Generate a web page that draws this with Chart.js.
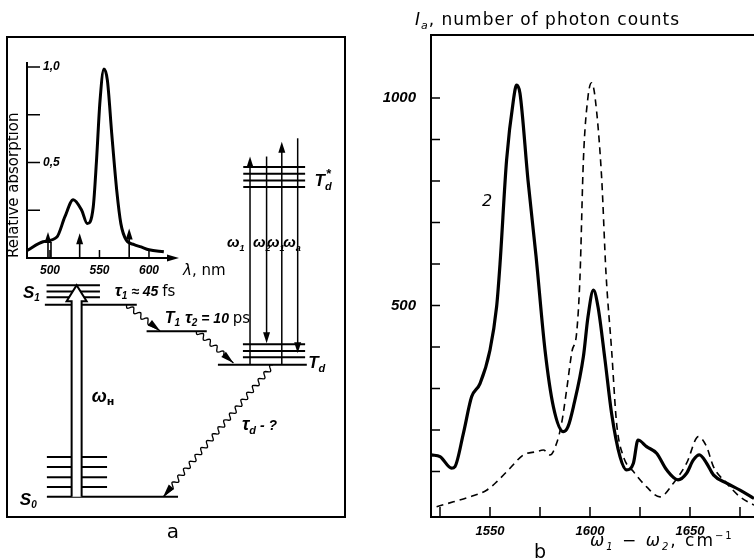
<!DOCTYPE html>
<html>
<head>
<meta charset="utf-8">
<title>Energy levels and resonance CARS spectra</title>
<script src="https://cdn.jsdelivr.net/npm/chart.js@4/dist/chart.umd.min.js"></script>
<style>
  html, body { margin: 0; padding: 0; background: #fff; overflow: hidden; }
  #page { position: relative; width: 754px; height: 560px; }
  #page canvas { position: absolute; }
</style>
</head>
<body>
<div id="page">
  <canvas id="diagram" width="360" height="560" style="left:0;top:0"></canvas>
  <canvas id="inset" width="240" height="250" style="left:0;top:40px"></canvas>
  <canvas id="spectrum" width="394" height="560" style="left:360px;top:0"></canvas>
</div>
<script>
// ---- panel a, inset: absorption spectrum ----
const absWavelength = [477, 493, 507, 515, 523.5, 532, 537.7, 543.7, 547, 550.5, 554.5, 558, 562.4, 567.5, 571.6, 577, 585, 592, 600, 615];
const absValue      = [0.04, 0.085, 0.11, 0.215, 0.305, 0.25, 0.18, 0.267, 0.51, 0.82, 0.99, 0.93, 0.65, 0.35, 0.18, 0.094, 0.07, 0.058, 0.043, 0.033];
const pumpWavelengths = [498, 530, 580];
const pumpHeights     = [0.136, 0.13, 0.155];

// ---- panel a: energy levels (arbitrary energy units, 0..100) ----
const s0Levels     = [4.2, 6.25, 8.3, 10.4, 12.5];
const s1Levels     = [44.2, 45.8, 47.0, 48.3];
const t1Level      = 38.7;
const tdLevels     = [31.7, 33.3, 34.6, 36.0];
const tdStarLevels = [68.75, 70.1, 71.5, 72.9];
const probeFrom    = [31.7, 75.1, 31.7, 78.9];
const probeTo      = [75.1, 36.2, 78.2, 34.1];
const probeNames   = [['ω', '1'], ['ω', '2'], ['ω', '1'], ['ω', 'a']];

// ---- panel b: CARS spectra ----
const curve2Wn = [1520.8, 1525, 1530.8, 1532.5, 1536.7, 1540.8, 1545, 1550, 1553.3, 1555, 1558.3, 1561.7, 1563.3, 1565, 1569, 1573, 1577.5, 1581.7, 1586.7, 1589, 1591.7, 1596.7, 1599, 1601.7, 1604, 1607.5, 1610.8, 1615, 1618.3, 1621.7, 1624, 1628.3, 1633.3, 1638.3, 1644, 1648.3, 1651.7, 1654.7, 1658.3, 1661.7, 1668.3, 1675, 1682];
const curve2Counts = [140, 136, 108, 112, 192, 280, 312, 393, 497, 600, 851, 995, 1031, 1011, 802, 620, 393, 256, 196, 208, 256, 377, 473, 537, 497, 369, 240, 136, 104, 120, 176, 160, 144, 104, 80, 96, 128, 140, 120, 92, 72, 55, 35];
const curve1Wn = [1523.3, 1531.7, 1540, 1548.3, 1553.3, 1560, 1566.7, 1573.3, 1576.7, 1580, 1583.3, 1585.8, 1588.3, 1591, 1593.3, 1595, 1596.7, 1599, 1600.8, 1602.5, 1605.8, 1608, 1610.8, 1613.3, 1616.7, 1621.7, 1628.3, 1635, 1641.7, 1648.3, 1654.2, 1658.3, 1661.7, 1668.3, 1675, 1682];
const curve1Counts = [15, 27, 39, 55, 75, 108, 140, 148, 152, 140, 168, 216, 296, 390, 433, 570, 851, 1003, 1037, 1003, 810, 578, 393, 216, 136, 100, 63, 39, 72, 120, 184, 160, 112, 72, 39, 19];
const curveLabel = { text: '2', wn: 1548.5, counts: 749 };

const it = s => `italic bold ${s}px 'Liberation Sans', sans-serif`;
const rg = s => `${s}px 'DejaVu Sans', sans-serif`;
const ri = s => `italic ${s}px 'DejaVu Sans', sans-serif`;

function line(ctx, x0, y0, x1, y1) {
  ctx.beginPath(); ctx.moveTo(x0, y0); ctx.lineTo(x1, y1); ctx.stroke();
}
function head(ctx, x, y, ang, len, half) {
  const c = Math.cos(ang), s = Math.sin(ang);
  ctx.beginPath();
  ctx.moveTo(x, y);
  ctx.lineTo(x - len * c + half * s, y - len * s - half * c);
  ctx.lineTo(x - len * c - half * s, y - len * s + half * c);
  ctx.closePath(); ctx.fill();
}
function wavy(ctx, x0, y0, x1, y1) {
  const dx = x1 - x0, dy = y1 - y0, len = Math.hypot(dx, dy);
  const ux = dx / len, uy = dy / len;
  ctx.beginPath(); ctx.moveTo(x0, y0);
  for (let s = 1; s <= len - 12; s++) {
    const o = 2.4 * Math.sin(s * 0.7);
    ctx.lineTo(x0 + ux * s - uy * o, y0 + uy * s + ux * o);
  }
  ctx.lineTo(x1, y1); ctx.stroke();
  head(ctx, x1, y1, Math.atan2(dy, dx), 13, 3.5);
}
// parts: [text, font, dy, dx]
function rich(ctx, x, y, parts, align) {
  let w = 0;
  parts.forEach(p => { ctx.font = p[1]; w += ctx.measureText(p[0]).width + (p[3] || 0); });
  let cx = align === 'center' ? x - w / 2 : x;
  ctx.textAlign = 'left'; ctx.textBaseline = 'alphabetic';
  parts.forEach(p => {
    ctx.font = p[1];
    cx += p[3] || 0;
    ctx.fillText(p[0], cx, y + (p[2] || 0));
    cx += ctx.measureText(p[0]).width;
  });
}
function ticksIn(ctx, scale, a, len, keep) {
  ctx.beginPath();
  scale.ticks.forEach(t => {
    if (!keep(t.value)) return;
    const p = scale.getPixelForValue(t.value);
    if (scale.isHorizontal()) { ctx.moveTo(p, a.bottom); ctx.lineTo(p, a.bottom - len); }
    else { ctx.moveTo(a.left, p); ctx.lineTo(a.left + len, p); }
  });
  ctx.stroke();
}

// ---------- panel a: level diagram ----------
const levelSegments = [
  ...s0Levels.map((e, i) => [e, 11.8, i ? 29.6 : 50.6]),
  ...s1Levels.map((e, i) => [e, i ? 11.7 : 11.2, i ? 27.5 : 38.4]),
  [t1Level, 41.3, 59.1],
  ...tdLevels.map((e, i) => [e, i ? 69.8 : 62.4, i ? 88.2 : 88.7]),
  ...tdStarLevels.map(e => [e, 69.9, 88.2])
];
const levelPoints = levelSegments.flatMap(([e, a, b]) => [{ x: a, y: e }, { x: b, y: e }, { x: NaN, y: NaN }]);

const pumpX = 20.6;
const probeX = [71.9, 76.8, 81.3, 86.0];
const relaxations = [[35.4, 44.2, 45.3, 38.8], [56.1, 38.75, 67.0, 32.1], [78.7, 31.7, 46.2, 4.2]];

const diagramPlugin = {
  id: 'diagramPlugin',
  afterDatasetsDraw(chart) {
    const { ctx, chartArea: a, scales: { x, y } } = chart;
    const px = v => x.getPixelForValue(v), py = v => y.getPixelForValue(v);
    ctx.save();
    ctx.strokeStyle = '#000'; ctx.fillStyle = '#000';
    ctx.lineWidth = 2;
    ctx.strokeRect(a.left, a.top, a.width, a.height);

    // hollow pump arrow
    const cx = px(pumpX), yb = py(s0Levels[0]), yt = py(s1Levels[s1Levels.length - 1]);
    ctx.beginPath();
    ctx.moveTo(cx - 5, yb); ctx.lineTo(cx - 5, yt + 16); ctx.lineTo(cx - 10, yt + 16);
    ctx.lineTo(cx, yt); ctx.lineTo(cx + 10, yt + 16); ctx.lineTo(cx + 5, yt + 16); ctx.lineTo(cx + 5, yb);
    ctx.fillStyle = '#fff'; ctx.fill();
    ctx.stroke();
    ctx.fillStyle = '#000';

    // probe / anti-Stokes transitions
    ctx.lineWidth = 1.5;
    probeX.forEach((xv, i) => {
      const xp = px(xv), y0 = py(probeFrom[i]), y1 = py(probeTo[i]);
      const up = y1 < y0;
      line(ctx, xp, y0, xp, up ? y1 + 6 : y1 - 6);
      head(ctx, xp, y1, up ? -Math.PI / 2 : Math.PI / 2, 11, 3.5);
    });

    // radiationless relaxations
    ctx.lineWidth = 1.3;
    relaxations.forEach(r => wavy(ctx, px(r[0]), py(r[1]), px(r[2]), py(r[3])));

    // labels
    const labels = [
      [4.7, 45.6, [['S', it(17)], ['1', it(10), 3]]],
      [3.8, 2.5, [['S', it(17)], ['0', it(10), 3]]],
      [31.9, 46.0, [['τ', it(17)], ['1', it(10), 3], [' ≈ 45 ', it(14)], ['fs', rg(15)]]],
      [46.7, 40.4, [['T', it(16)], ['1', it(10), 3], [' τ', it(17)], ['2', it(10), 3], [' = 10 ', it(14)], ['ps', rg(15)]]],
      [89.1, 31.0, [['T', it(17)], ['d', it(11), 4]]],
      [91.0, 69.0, [['T', it(17)], ['d', it(11), 4], ['*', it(13), -8, -6]]],
      [25.1, 24.0, [['ω', it(18)], ['н', "bold 11px 'DejaVu Sans'", 3]]],
      [69.5, 18.1, [['τ', it(18)], ['d', it(11), 4], [' - ?', it(14)]]]
    ];
    const probeLeft = [65.1, 72.8, 76.9, 81.7];
    probeNames.forEach((n, i) => labels.push([probeLeft[i], 56.3, [[n[0], it(15)], [n[1], it(9), 4]]]));
    labels.forEach(l => rich(ctx, px(l[0]), py(l[1]), l[2]));
    rich(ctx, px(49.1), py(-4.4), [['a', rg(20)]], 'center');
    ctx.restore();
  }
};

new Chart(document.getElementById('diagram'), {
  type: 'scatter',
  data: {
    datasets: [{
      data: levelPoints,
      showLine: true,
      spanGaps: false,
      borderColor: '#000',
      borderWidth: 2,
      pointRadius: 0
    }]
  },
  options: {
    responsive: false,
    animation: false,
    layout: { padding: { left: 7, top: 37, right: 15, bottom: 43 } },
    scales: {
      x: { display: false, min: 0, max: 100 },
      y: { display: false, min: 0, max: 100 }
    },
    plugins: { legend: { display: false }, tooltip: { enabled: false } }
  },
  plugins: [diagramPlugin]
});

// ---------- panel a: inset ----------
const insetPlugin = {
  id: 'insetPlugin',
  afterDatasetsDraw(chart) {
    const { ctx, chartArea: a, scales: { x, y } } = chart;
    ctx.save();
    ctx.strokeStyle = '#000'; ctx.fillStyle = '#000';
    ctx.lineWidth = 1.5;
    ticksIn(ctx, y, a, 13, v => v > 0);
    ticksIn(ctx, x, a, 8, v => v % 50 === 0);
    ctx.lineWidth = 2;
    line(ctx, a.right, a.bottom, a.right + 4, a.bottom);
    head(ctx, a.right + 12, a.bottom, 0, 12, 3.5);
    ctx.lineWidth = 1.6;
    pumpWavelengths.forEach((w, i) => {
      const xp = x.getPixelForValue(w), yt = y.getPixelForValue(pumpHeights[i]);
      line(ctx, xp, a.bottom, xp, yt + 8);
      if (i === 0) line(ctx, xp + 3, a.bottom, xp + 3, yt + 10);
      head(ctx, xp, yt, -Math.PI / 2, 11, 3.5);
    });
    rich(ctx, a.right + 16, a.bottom + 17, [['λ', ri(15)], [', nm', rg(15)]]);
    ctx.restore();
  }
};

new Chart(document.getElementById('inset'), {
  type: 'line',
  data: {
    datasets: [{
      data: absWavelength.map((w, i) => ({ x: w, y: absValue[i] })),
      borderColor: '#000',
      borderWidth: 3,
      pointRadius: 0,
      cubicInterpolationMode: 'monotone'
    }]
  },
  options: {
    responsive: false,
    animation: false,
    layout: { padding: { left: 0, top: 21, right: 73, bottom: 0 } },
    scales: {
      x: {
        type: 'linear', min: 476.8, max: 618.2,
        afterFit: s => { s.height = 32; },
        grid: { display: false, drawTicks: false },
        border: { display: true, color: '#000', width: 2 },
        ticks: {
          stepSize: 50, includeBounds: false, autoSkip: false, maxRotation: 0, padding: 5, color: '#000',
          font: { family: 'Liberation Sans', size: 12, style: 'italic', weight: 'bold' },
          callback: v => v % 50 === 0 ? String(v) : ''
        }
      },
      y: {
        min: 0, max: 1.02,
        afterFit: s => { s.width = 27; },
        grid: { display: false, drawTicks: false },
        border: { display: true, color: '#000', width: 2 },
        title: { display: true, text: 'Relative absorption', align: 'start', color: '#000', padding: { top: 5, bottom: 0 }, font: { family: 'DejaVu Sans', size: 15 } },
        ticks: {
          stepSize: 0.25, includeBounds: false, autoSkip: false, mirror: true, padding: 16, color: '#000',
          font: { family: 'Liberation Sans', size: 12, style: 'italic', weight: 'bold' },
          callback: v => (Math.abs(v - 0.5) < 1e-6 || Math.abs(v - 1) < 1e-6) ? v.toFixed(1).replace('.', ',') : ''
        }
      }
    },
    plugins: { legend: { display: false }, tooltip: { enabled: false } }
  },
  plugins: [insetPlugin]
});

// ---------- panel b: spectra ----------
const spectrumPlugin = {
  id: 'spectrumPlugin',
  afterDatasetsDraw(chart) {
    const { ctx, chartArea: a, scales: { x, y } } = chart;
    ctx.save();
    ctx.strokeStyle = '#000'; ctx.fillStyle = '#000';
    ctx.lineWidth = 2;
    line(ctx, a.left, a.top, a.right, a.top);
    ctx.lineWidth = 1.5;
    ticksIn(ctx, y, a, 9, v => v > 0 && v <= 1000);
    ticksIn(ctx, x, a, 10, () => true);

    ctx.font = ri(16); ctx.textAlign = 'center'; ctx.textBaseline = 'middle';
    ctx.fillText(curveLabel.text, x.getPixelForValue(curveLabel.wn), y.getPixelForValue(curveLabel.counts));

    if ('letterSpacing' in ctx) ctx.letterSpacing = '1px';
    rich(ctx, a.left - 16, a.top - 10, [['I', ri(17)], ['a', ri(11), 4], [', number of photon counts', rg(17)]]);
    if ('letterSpacing' in ctx) ctx.letterSpacing = '2px';
    rich(ctx, a.left + 159, a.bottom + 29, [['ω', ri(17)], ['1', ri(10), 4], [' − ', rg(17)], ['ω', ri(17)], ['2', ri(10), 4], [', cm', rg(17)], ['−1', rg(10), -7]]);
    if ('letterSpacing' in ctx) ctx.letterSpacing = '0px';
    rich(ctx, a.left + 109, a.bottom + 41, [['b', rg(19)]], 'center');
    ctx.restore();
  }
};

new Chart(document.getElementById('spectrum'), {
  type: 'line',
  data: {
    datasets: [{
      label: '2',
      data: curve2Wn.map((w, i) => ({ x: w, y: curve2Counts[i] })),
      borderColor: '#000',
      borderWidth: 3.2,
      pointRadius: 0,
      cubicInterpolationMode: 'monotone'
    }, {
      label: '1',
      data: curve1Wn.map((w, i) => ({ x: w, y: curve1Counts[i] })),
      borderColor: '#000',
      borderWidth: 1.6,
      borderDash: [7, 5],
      pointRadius: 0,
      cubicInterpolationMode: 'monotone'
    }]
  },
  options: {
    responsive: false,
    animation: false,
    layout: { padding: { left: 0, top: 35, right: 0, bottom: 0 } },
    scales: {
      x: {
        type: 'linear', min: 1520.5, max: 1682,
        afterFit: s => { s.height = 43; },
        grid: { display: false, drawTicks: false },
        border: { display: true, color: '#000', width: 2 },
        ticks: {
          stepSize: 25, includeBounds: false, autoSkip: false, maxRotation: 0, padding: 7, color: '#000',
          font: { family: 'Liberation Sans', size: 13, style: 'italic', weight: 'bold' },
          callback: v => v % 50 === 0 ? String(v) : ''
        }
      },
      y: {
        min: -9.6, max: 1152,
        afterFit: s => { s.width = 71; },
        grid: { display: false, drawTicks: false },
        border: { display: true, color: '#000', width: 2 },
        ticks: {
          stepSize: 100, includeBounds: false, autoSkip: false, padding: 15, color: '#000',
          font: { family: 'Liberation Sans', size: 15, style: 'italic', weight: 'bold' },
          callback: v => (v === 500 || v === 1000) ? String(v) : ''
        }
      }
    },
    plugins: { legend: { display: false }, tooltip: { enabled: false } }
  },
  plugins: [spectrumPlugin]
});
</script>
</body>
</html>
